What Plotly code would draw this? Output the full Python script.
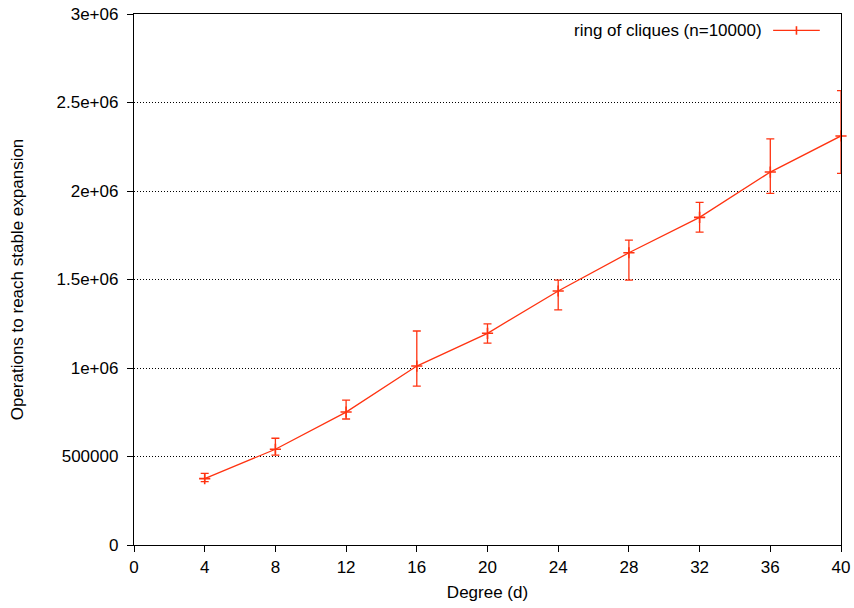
import plotly.graph_objects as go

degree = [4, 8, 12, 16, 20, 24, 28, 32, 36, 40]
ops_mean = [375000, 541000, 751000, 1011000, 1196000, 1435000, 1651000, 1851000, 2107000, 2311000]
err_plus = [30000, 62000, 68000, 198000, 53000, 62000, 72000, 85000, 187000, 256000]
err_minus = [17000, 33000, 39000, 113000, 56000, 107000, 154000, 83000, 120000, 211000]

series_name = "ring of cliques (n=10000)"
y_ticks = [0, 500000, 1000000, 1500000, 2000000, 2500000, 3000000]
y_labels = ["0", "500000", "1e+06", "1.5e+06", "2e+06", "2.5e+06", "3e+06"]
x_ticks = list(range(0, 41, 4))

red = "#ff3311"
font = "Liberation Sans, Arial, Helvetica, sans-serif"
fs = 17

fig = go.Figure()
fig.add_trace(go.Scatter(
    x=degree, y=ops_mean, mode="lines+markers", name=series_name,
    line=dict(color=red, width=1.3),
    marker=dict(symbol="cross-thin", size=8, line=dict(color=red, width=1.6)),
    error_y=dict(type="data", symmetric=False, array=err_plus, arrayminus=err_minus,
                 color=red, thickness=1.3, width=4),
    showlegend=False, cliponaxis=False,
))

fig.update_layout(
    width=854, height=608, autosize=False,
    margin=dict(l=134, r=13, t=14, b=63, autoexpand=False),
    paper_bgcolor="white", plot_bgcolor="white",
    font=dict(family=font, size=fs, color="black"),
    xaxis=dict(range=[0, 40], tickvals=x_ticks, ticks="outside", ticklen=6,
               tickcolor="black", showline=True, linecolor="black", linewidth=1.3,
               mirror=True, showgrid=False, zeroline=False, automargin=False,
               tickfont=dict(size=fs), ticklabelstandoff=0,
               title=dict(text="Degree (d)", standoff=10, font=dict(size=fs))),
    yaxis=dict(range=[0, 3000000], tickvals=y_ticks, ticktext=y_labels,
               ticks="outside", ticklen=6, tickcolor="black",
               showline=True, linecolor="black", linewidth=1.3, mirror=True,
               showgrid=True, gridcolor="black", griddash="1px,2px", gridwidth=1,
               zeroline=False, automargin=False, tickfont=dict(size=fs),
               ticklabelstandoff=5,
               title=dict(text="Operations to reach stable expansion", standoff=28,
                          font=dict(size=fs))),
    annotations=[dict(xref="paper", yref="paper", x=0.891, y=0.969,
                      xanchor="right", yanchor="middle", showarrow=False,
                      text=series_name, font=dict(family=font, size=fs))],
    shapes=[
        dict(type="line", xref="paper", yref="paper", x0=0.904, x1=0.970,
             y0=0.969, y1=0.969, line=dict(color=red, width=1.3)),
        dict(type="line", xref="paper", yref="paper", x0=0.937, x1=0.937,
             y0=0.961, y1=0.977, line=dict(color=red, width=1.6)),
    ],
)

fig.write_html("out.html", post_script="document.body.style.margin='0';document.body.style.overflow='hidden';")
